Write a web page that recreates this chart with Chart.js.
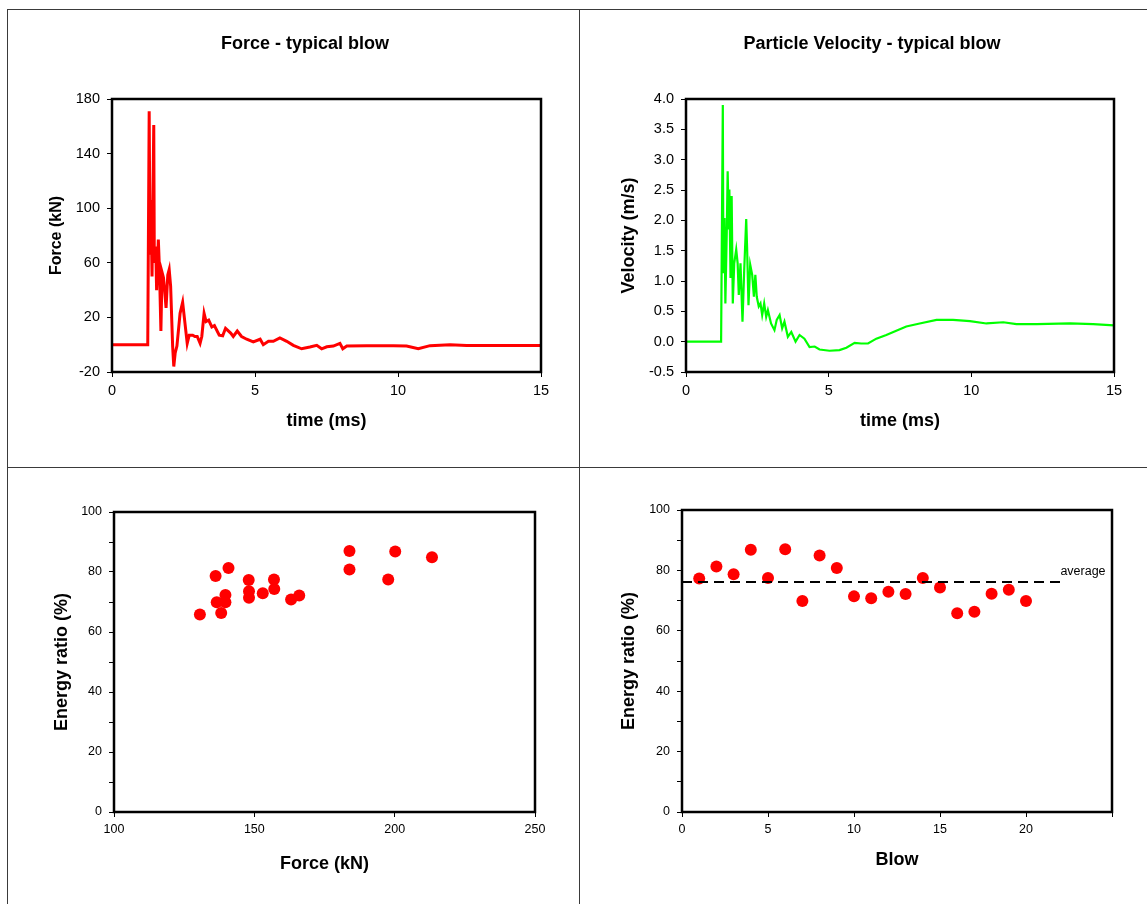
<!DOCTYPE html>
<html>
<head>
<meta charset="utf-8">
<script src="https://cdn.jsdelivr.net/npm/chart.js@4.4.1/dist/chart.umd.min.js"></script>
<style>
  html, body { margin: 0; padding: 0; background: #fff; }
  body { width: 1147px; height: 904px; position: relative; overflow: hidden; }
  .rule { position: absolute; background: #3a3a3a; }
  canvas { position: absolute; }
</style>
</head>
<body>
<div class="rule" style="left:7px;top:9px;width:1140px;height:1px"></div>
<div class="rule" style="left:7px;top:467px;width:1140px;height:1px"></div>
<div class="rule" style="left:7px;top:9px;width:1px;height:895px"></div>
<div class="rule" style="left:579px;top:9px;width:1px;height:895px"></div>

<canvas id="forceChart" width="570" height="456" style="left:8px;top:10px"></canvas>
<canvas id="velocityChart" width="570" height="456" style="left:580px;top:10px"></canvas>
<canvas id="ratioForceChart" width="570" height="436" style="left:8px;top:468px"></canvas>
<canvas id="ratioBlowChart" width="570" height="436" style="left:580px;top:468px"></canvas>

<script>
// ==================== data ====================
const forceTime = [0, 1.25, 1.30, 1.33, 1.36, 1.40, 1.46, 1.48, 1.53, 1.56,
    1.62, 1.66, 1.71, 1.75, 1.80, 1.84, 1.89, 1.95, 2.00, 2.05,
    2.12, 2.16, 2.21, 2.27, 2.38, 2.47, 2.55, 2.63, 2.70, 2.82,
    2.90, 2.98, 3.08, 3.14, 3.22, 3.29, 3.38, 3.49, 3.58, 3.75,
    3.87, 3.97, 4.15, 4.24, 4.38, 4.53, 4.71, 4.94, 5.18, 5.29,
    5.47, 5.64, 5.87, 6.11, 6.34, 6.63, 6.92, 7.16, 7.33, 7.51,
    7.74, 7.97, 8.07, 8.21, 8.90, 9.84, 10.30, 10.71, 11.12, 11.82,
    12.40, 13.57, 15.0];
const forceKN = [0, 0, 171, 67, 106, 50, 161, 60, 72, 40,
    77, 55, 10, 53, 49, 40, 27, 51, 55, 43,
    -1, -16, -6, -1, 23, 31, 16, 1, 7, 7,
    6, 6, 1, 6, 23, 17, 18, 13, 14, 7,
    6.5, 12, 8.5, 6, 10, 6, 4, 2, 4, 0,
    2.5, 2.5, 5, 2.5, -0.5, -3, -1.7, -0.5, -3, -1.5,
    -1, 1, -3, -1, -0.7, -0.7, -1, -3, -0.7, 0,
    -0.5, -0.5, -0.5];

const velTime = [0, 1.23, 1.29, 1.31, 1.35, 1.38, 1.43, 1.46, 1.50, 1.52,
    1.56, 1.60, 1.64, 1.69, 1.76, 1.81, 1.85, 1.91, 1.98, 2.04,
    2.11, 2.14, 2.19, 2.25, 2.32, 2.38, 2.43, 2.48, 2.55, 2.61,
    2.67, 2.74, 2.81, 2.87, 2.98, 3.10, 3.18, 3.28, 3.37, 3.45,
    3.57, 3.69, 3.84, 3.98, 4.15, 4.33, 4.51, 4.68, 5.03, 5.38,
    5.62, 5.91, 6.14, 6.38, 6.67, 7.02, 7.37, 7.72, 8.19, 8.78,
    9.36, 9.95, 10.53, 11.12, 11.58, 12.29, 13.46, 14.27, 15.0];
const velocity = [0, 0, 3.90, 1.13, 2.04, 0.63, 1.85, 2.81, 1.85, 2.51,
    1.05, 2.40, 0.63, 1.29, 1.52, 1.29, 0.77, 1.29, 0.33, 1.18,
    2.02, 1.57, 0.60, 1.27, 1.10, 0.74, 1.10, 0.74, 0.58, 0.63,
    0.44, 0.63, 0.41, 0.52, 0.30, 0.19, 0.36, 0.44, 0.22, 0.33,
    0.08, 0.16, 0, 0.11, 0.05, -0.09, -0.08, -0.13, -0.15, -0.14,
    -0.10, -0.02, -0.03, -0.03, 0.05, 0.11, 0.18, 0.25, 0.30, 0.36,
    0.36, 0.34, 0.30, 0.32, 0.29, 0.29, 0.30, 0.29, 0.27];

const blows = [1, 2, 3, 4, 5, 6, 7, 8, 9, 10, 11, 12, 13, 14, 15, 16, 17, 18, 19, 20];
const blowForce = [148.0, 140.8, 136.2, 200.2, 197.7, 183.9, 136.6, 213.3, 183.9, 148.1,
    163.1, 153.0, 166.0, 157.0, 157.1, 130.6, 138.2, 139.7, 148.1, 139.7];
const energyRatio = [77.3, 81.3, 78.7, 86.8, 77.5, 87.0, 69.9, 84.9, 80.8, 71.4,
    70.8, 72.9, 72.2, 77.5, 74.3, 65.8, 66.3, 72.3, 73.6, 69.9];
const averageRatio = 76.2;
const averageSpan = [0, 22];

// ==================== helpers ====================
const FONT = "'Liberation Sans', Arial, Helvetica, sans-serif";
Chart.defaults.font.family = FONT;
Chart.defaults.color = '#000';

const panelTitle = {
    id: 'panelTitle',
    afterDraw(chart, args, opts) {
        if (!opts || !opts.text) return;
        const ctx = chart.ctx;
        ctx.save();
        ctx.font = 'bold 18px ' + FONT;
        ctx.fillStyle = '#000';
        ctx.textAlign = 'center';
        ctx.textBaseline = 'middle';
        ctx.fillText(opts.text, opts.x, opts.y);
        ctx.restore();
    }
};

const plotFrame = {
    id: 'plotFrame',
    afterDraw(chart) {
        const a = chart.chartArea;
        const ctx = chart.ctx;
        ctx.save();
        ctx.strokeStyle = '#000';
        ctx.lineWidth = 2.5;
        ctx.strokeRect(a.left, a.top, a.right - a.left, a.bottom - a.top);
        ctx.restore();
    }
};

const averageTag = {
    id: 'averageTag',
    afterDatasetsDraw(chart, args, opts) {
        const ctx = chart.ctx;
        const x = chart.scales.x.getPixelForValue(opts.x);
        const y = chart.scales.y.getPixelForValue(opts.y);
        ctx.save();
        ctx.font = '12.5px ' + FONT;
        ctx.fillStyle = '#000';
        ctx.textAlign = 'left';
        ctx.textBaseline = 'alphabetic';
        ctx.fillText(opts.text, x, y - 7);
        ctx.restore();
    }
};

function toPoints(xs, ys) {
    return xs.map((x, i) => ({ x: x, y: ys[i] }));
}

function tickGrid() {
    return { drawOnChartArea: false, drawTicks: true, tickLength: 5, color: '#000', lineWidth: 1 };
}

function axis(opts) {
    return {
        type: 'linear',
        min: opts.min,
        max: opts.max,
        border: { display: false },
        grid: tickGrid(),
        ticks: {
            stepSize: opts.step,
            padding: opts.tickPad,
            color: '#000',
            font: { size: opts.tickSize },
            autoSkip: false,
            maxRotation: 0,
            callback: opts.format
        },
        title: {
            display: true,
            text: opts.title,
            color: '#000',
            font: { size: opts.titleSize, weight: 'bold' },
            padding: opts.titlePad
        },
        afterFit: opts.fit
    };
}

function baseOptions(padding, scales, plugins) {
    return {
        responsive: false,
        animation: false,
        events: [],
        layout: { padding: padding },
        scales: scales,
        plugins: Object.assign({ legend: { display: false }, tooltip: { enabled: false } }, plugins)
    };
}

// ==================== Force - typical blow ====================
new Chart(document.getElementById('forceChart'), {
    type: 'line',
    data: {
        datasets: [{
            data: toPoints(forceTime, forceKN),
            borderColor: '#ff0000',
            borderWidth: 3,
            pointRadius: 0,
            tension: 0
        }]
    },
    options: baseOptions({ left: 30, right: 37, top: 89, bottom: 24 }, {
        x: axis({ min: 0, max: 15, step: 5, tickPad: 5, tickSize: 14.5, title: 'time (ms)', titleSize: 18,
            titlePad: { top: 0, bottom: 10 }, fit: s => { s.height = 70; } }),
        y: axis({ min: -20, max: 180, step: 40, tickPad: 7, tickSize: 14.5, title: 'Force (kN)', titleSize: 16,
            titlePad: { top: 9.4, bottom: 0 }, fit: s => { s.width = 74; } })
    }, { panelTitle: { text: 'Force - typical blow', x: 297, y: 34 } }),
    plugins: [panelTitle, plotFrame]
});

// ==================== Particle Velocity - typical blow ====================
new Chart(document.getElementById('velocityChart'), {
    type: 'line',
    data: {
        datasets: [{
            data: toPoints(velTime, velocity),
            borderColor: '#00ff00',
            borderWidth: 2.2,
            pointRadius: 0,
            tension: 0
        }]
    },
    options: baseOptions({ left: 30, right: 36, top: 89, bottom: 24 }, {
        x: axis({ min: 0, max: 15, step: 5, tickPad: 5, tickSize: 14.5, title: 'time (ms)', titleSize: 18,
            titlePad: { top: 0, bottom: 10 }, fit: s => { s.height = 70; } }),
        y: axis({ min: -0.5, max: 4, step: 0.5, tickPad: 7, tickSize: 14.5, title: 'Velocity (m/s)', titleSize: 18,
            titlePad: { top: 8.2, bottom: 0 }, fit: s => { s.width = 76; },
            format: v => Number(v).toFixed(1) })
    }, { panelTitle: { text: 'Particle Velocity - typical blow', x: 292, y: 34 } }),
    plugins: [panelTitle, plotFrame]
});

// ==================== Energy ratio vs Force ====================
new Chart(document.getElementById('ratioForceChart'), {
    type: 'scatter',
    data: {
        datasets: [{
            data: toPoints(blowForce, energyRatio),
            backgroundColor: '#ff0000',
            borderWidth: 0,
            pointRadius: 6
        }]
    },
    options: baseOptions({ left: 30, right: 43, top: 44, bottom: 20 }, {
        x: axis({ min: 100, max: 250, step: 50, tickPad: 5, tickSize: 12.5, title: 'Force (kN)', titleSize: 18,
            titlePad: { top: 0, bottom: 9.2 }, fit: s => { s.height = 72; } }),
        y: axis({ min: 0, max: 100, step: 10, tickPad: 7, tickSize: 12.5, title: 'Energy ratio (%)', titleSize: 18,
            titlePad: { top: 13.2, bottom: 0 }, fit: s => { s.width = 76; },
            format: v => (v % 20 === 0 ? String(v) : '') })
    }, {}),
    plugins: [plotFrame]
});

// ==================== Energy ratio vs Blow ====================
new Chart(document.getElementById('ratioBlowChart'), {
    type: 'scatter',
    data: {
        datasets: [
            {
                data: toPoints(averageSpan, [averageRatio, averageRatio]),
                showLine: true,
                borderColor: '#000',
                borderWidth: 2,
                borderDash: [10, 6],
                pointRadius: 0,
                order: 0
            },
            {
                data: toPoints(blows, energyRatio),
                backgroundColor: '#ff0000',
                borderWidth: 0,
                pointRadius: 6,
                order: 1
            }
        ]
    },
    options: baseOptions({ left: 30, right: 38, top: 42, bottom: 20 }, {
        x: axis({ min: 0, max: 25, step: 5, tickPad: 5, tickSize: 12.5, title: 'Blow', titleSize: 18,
            titlePad: { top: 0, bottom: 13.2 }, fit: s => { s.height = 72; },
            format: v => (v === 25 ? '' : String(v)) }),
        y: axis({ min: 0, max: 100, step: 10, tickPad: 7, tickSize: 12.5, title: 'Energy ratio (%)', titleSize: 18,
            titlePad: { top: 8.2, bottom: 0 }, fit: s => { s.width = 72; },
            format: v => (v % 20 === 0 ? String(v) : '') })
    }, { averageTag: { text: 'average', x: averageSpan[1], y: averageRatio } }),
    plugins: [plotFrame, averageTag]
});
</script>
</body>
</html>
